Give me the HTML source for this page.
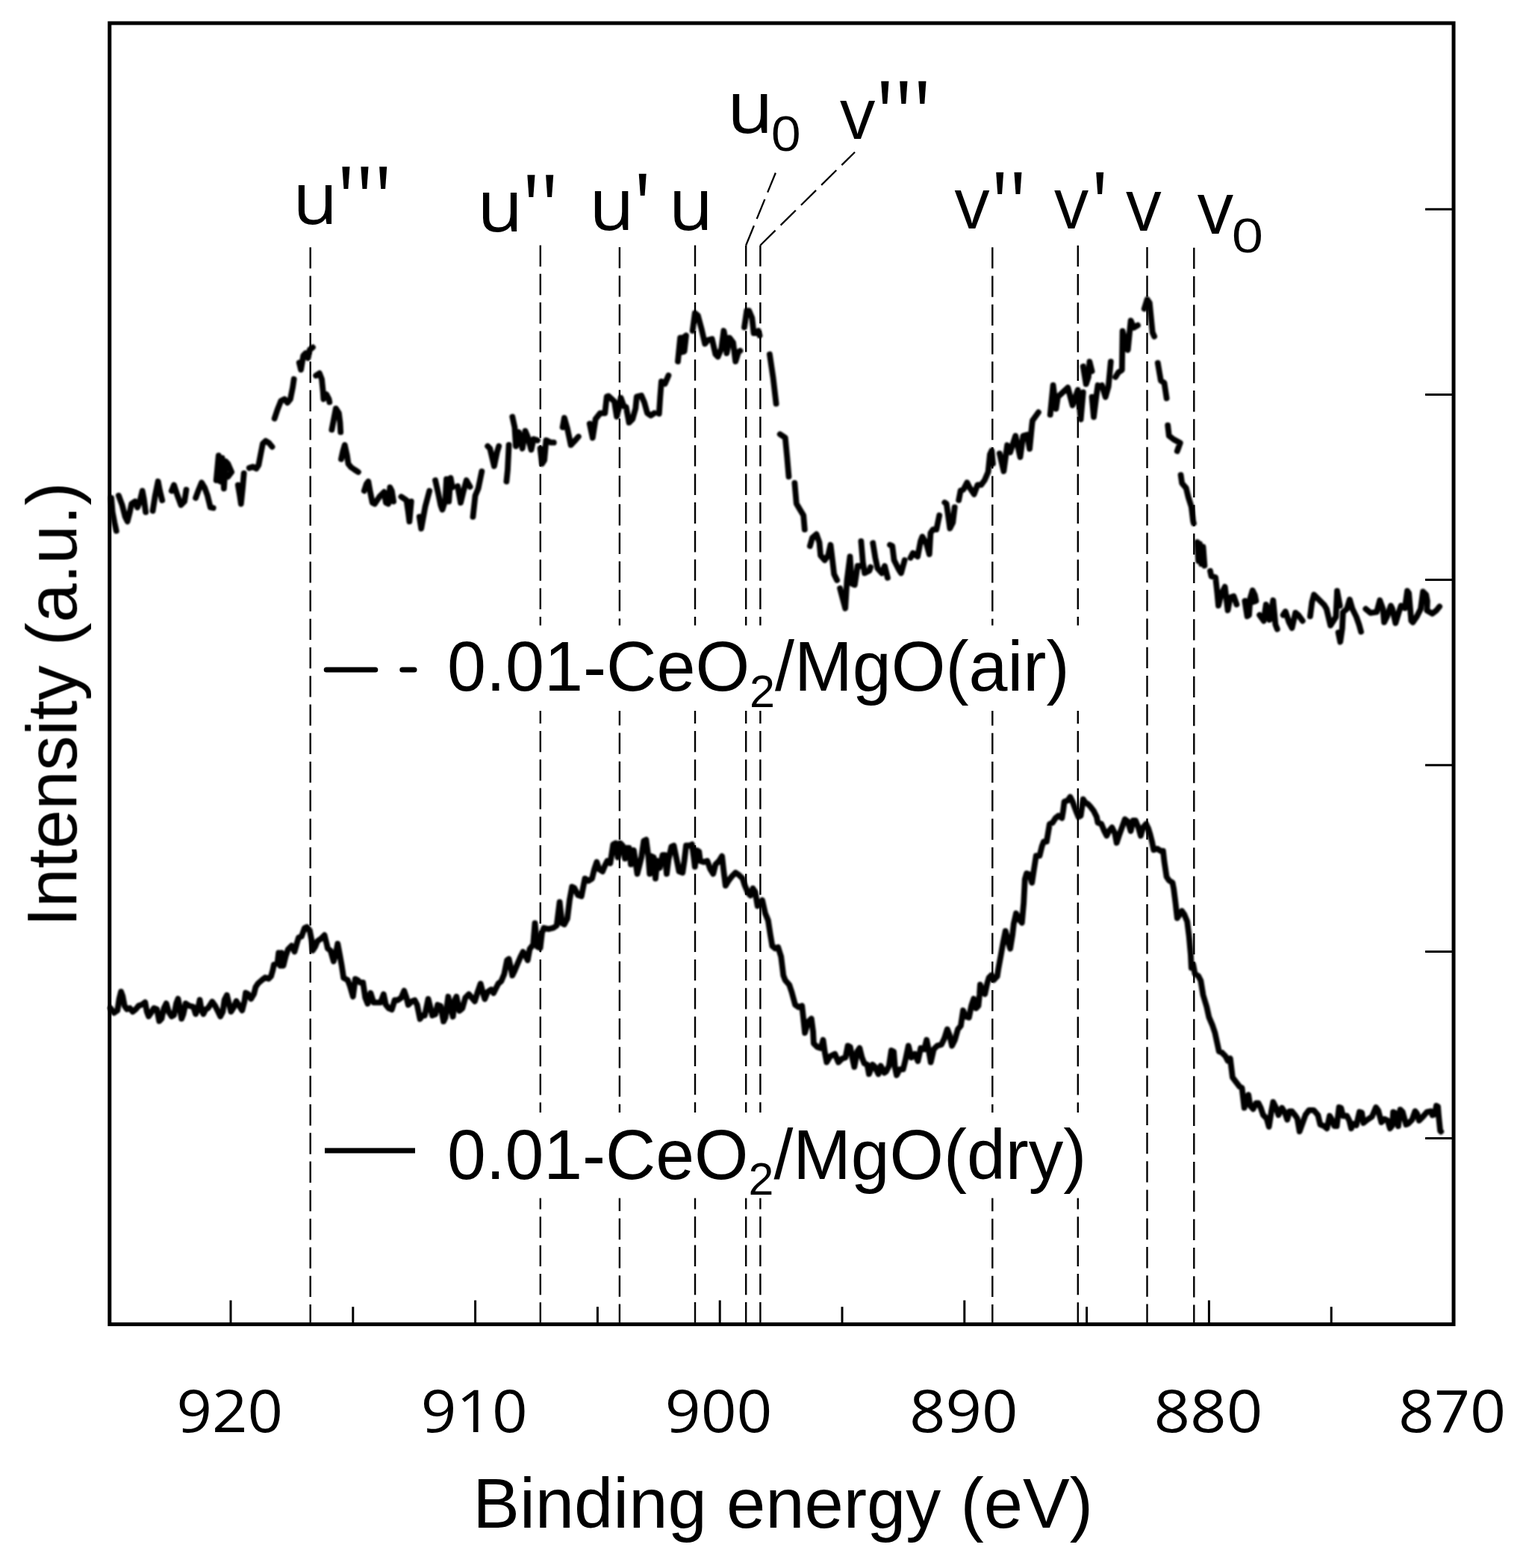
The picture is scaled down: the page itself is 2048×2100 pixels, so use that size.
<!DOCTYPE html>
<html><head><meta charset="utf-8"><style>html,body{margin:0;padding:0;background:#fff}svg{display:block}</style></head>
<body><svg width="2048" height="2100" viewBox="0 0 2048 2100">
<rect width="2048" height="2100" fill="#fff"/>
<defs><filter id="gb" x="0" y="0" width="100%" height="100%" filterUnits="userSpaceOnUse"><feGaussianBlur stdDeviation="0.55"/></filter></defs>
<g filter="url(#gb)">
<line x1="415.7" y1="331.3" x2="415.7" y2="1771.6" stroke="#000" stroke-width="2.4" stroke-dasharray="28.3 9.96"/>
<line x1="723.8" y1="328.6" x2="723.8" y2="1771.6" stroke="#000" stroke-width="2.4" stroke-dasharray="28.3 9.96"/>
<line x1="829.9" y1="331.0" x2="829.9" y2="1771.6" stroke="#000" stroke-width="2.4" stroke-dasharray="28.3 9.96"/>
<line x1="931.0" y1="328.5" x2="931.0" y2="1771.6" stroke="#000" stroke-width="2.4" stroke-dasharray="28.3 9.96"/>
<line x1="999.2" y1="328.5" x2="999.2" y2="1771.6" stroke="#000" stroke-width="2.4" stroke-dasharray="28.3 9.96"/>
<line x1="1018.4" y1="328.5" x2="1018.4" y2="1771.6" stroke="#000" stroke-width="2.4" stroke-dasharray="28.3 9.96"/>
<line x1="1329.3" y1="331.3" x2="1329.3" y2="1771.6" stroke="#000" stroke-width="2.4" stroke-dasharray="28.3 9.96"/>
<line x1="1443.8" y1="328.7" x2="1443.8" y2="1771.6" stroke="#000" stroke-width="2.4" stroke-dasharray="28.3 9.96"/>
<line x1="1536.5" y1="331.0" x2="1536.5" y2="1771.6" stroke="#000" stroke-width="2.4" stroke-dasharray="28.3 9.96"/>
<line x1="1599.3" y1="331.8" x2="1599.3" y2="1771.6" stroke="#000" stroke-width="2.4" stroke-dasharray="28.3 9.96"/>
<line x1="999.2" y1="328.5" x2="1040" y2="228.7" stroke="#000" stroke-width="2.3" stroke-dasharray="28.3 9.96"/>
<line x1="1018.4" y1="328.5" x2="1145" y2="203.7" stroke="#000" stroke-width="2.3" stroke-dasharray="28.3 9.96"/>
<rect x="420" y="837.6" width="1040" height="114.4" fill="#fff"/>
<rect x="420" y="1490" width="1040" height="114.6" fill="#fff"/>
<rect x="146.8" y="31" width="1800.2" height="1742.6" fill="none" stroke="#000" stroke-width="5"/>
<line x1="1783.2" y1="1750.2" x2="1783.2" y2="1773.6" stroke="#000" stroke-width="3"/>
<line x1="1619.4" y1="1741.5" x2="1619.4" y2="1773.6" stroke="#000" stroke-width="3"/>
<line x1="1455.6" y1="1750.2" x2="1455.6" y2="1773.6" stroke="#000" stroke-width="3"/>
<line x1="1291.8" y1="1741.5" x2="1291.8" y2="1773.6" stroke="#000" stroke-width="3"/>
<line x1="1128.0" y1="1750.2" x2="1128.0" y2="1773.6" stroke="#000" stroke-width="3"/>
<line x1="964.2" y1="1741.5" x2="964.2" y2="1773.6" stroke="#000" stroke-width="3"/>
<line x1="800.4" y1="1750.2" x2="800.4" y2="1773.6" stroke="#000" stroke-width="3"/>
<line x1="636.6" y1="1741.5" x2="636.6" y2="1773.6" stroke="#000" stroke-width="3"/>
<line x1="472.8" y1="1750.2" x2="472.8" y2="1773.6" stroke="#000" stroke-width="3"/>
<line x1="309.0" y1="1741.5" x2="309.0" y2="1773.6" stroke="#000" stroke-width="3"/>
<line x1="1909" y1="280.2" x2="1947" y2="280.2" stroke="#000" stroke-width="3"/>
<line x1="1909" y1="528.6" x2="1947" y2="528.6" stroke="#000" stroke-width="3"/>
<line x1="1909" y1="776.6" x2="1947" y2="776.6" stroke="#000" stroke-width="3"/>
<line x1="1909" y1="1024.7" x2="1947" y2="1024.7" stroke="#000" stroke-width="3"/>
<line x1="1909" y1="1274.5" x2="1947" y2="1274.5" stroke="#000" stroke-width="3"/>
<line x1="1909" y1="1524.4" x2="1947" y2="1524.4" stroke="#000" stroke-width="3"/>
<defs><filter id="sb" x="-5%" y="-5%" width="110%" height="110%"><feGaussianBlur stdDeviation="1.1"/></filter></defs>
<g filter="url(#sb)" fill="none" stroke="#000" stroke-width="7.8" stroke-linecap="round" stroke-linejoin="round">
<path d="M149.1,666.9 L150.7,685.8 L153.4,700.0 L155.8,711.0 M158.9,663.7 L163.6,676.3 L167.6,692.1 L170.7,698.4 L173.9,685.8 L176.2,674.8 L181.0,671.6 L184.1,679.5 L187.3,671.6 L190.7,657.4 L192.8,668.5 L195.1,685.8 M204.6,684.2 L207.8,663.7 L211.7,644.8 L214.1,657.4 L217.2,670.0 M229.8,657.4 L233.0,649.6 L237.7,663.7 L242.4,676.3 L247.1,671.6 L249.5,655.9 M262.1,666.9 L266.1,655.9 L270.0,646.4 L273.9,652.7 L277.9,663.7 L281.8,679.5 L285.7,680.3 M289.7,643.3 L292.8,610.2 L295.2,644.8 L297.6,613.3 L299.9,654.3 L302.3,618.0 L305.4,621.2 L310.2,632.2 L305.4,638.5 M318.8,649.6 L321.2,663.7 L322.8,674.8 L325.1,652.7 L326.7,633.8 M333.8,626.7 L338.5,625.1 L343.3,627.5 L346.4,622.8 L348.8,610.2 L351.9,594.4 L355.9,590.5 L360.6,593.6 L364.5,598.4 M367.7,560.5 L371.6,548.7 L376.3,536.9 L381.1,534.5 L385.0,539.3 L388.9,534.5 L392.1,518.8 L393.7,507.8 M400.8,485.7 L403.1,495.1 L406.3,476.2 L409.4,473.1 L412.6,479.4 L414.9,468.4 L418.9,465.2 M423.2,503.0 L427.9,499.9 L431.0,507.8 L432.6,523.5 L433.4,534.5 L437.3,528.2 L440.5,534.5 L441.3,538.5 M444.4,575.5 L446.8,562.9 L449.9,547.1 L453.9,553.4 L455.5,566.1 L456.2,578.7 M457.0,614.9 L459.4,603.9 L461.8,596.0 L464.9,610.2 L466.5,621.2 L470.4,625.9 L475.1,629.1 L479.9,632.2 M487.8,657.4 L490.9,648.0 L493.3,644.8 L495.6,657.4 L498.8,673.2 L501.9,674.8 L508.2,665.3 L514.5,659.0 L516.9,673.2 L520.1,674.8 L522.4,652.7 L524.8,657.4 L527.1,671.6 M537.4,665.3 L544.5,670.0 L546.8,685.8 L548.4,698.4 L550.8,671.6 M561.8,692.1 L564.2,707.9 L566.5,695.3 L569.7,677.9 L575.2,657.4 M583.1,643.3 L587.0,660.6 L590.2,676.3 L592.5,682.6 L596.5,670.0 L598.0,641.7 L601.2,671.6 L603.6,640.1 L605.9,652.7 M613.0,651.1 L617.0,673.2 L620.9,657.4 L624.8,643.3 L629.6,651.9 M633.5,692.1 L636.6,663.7 L640.6,654.3 L645.3,631.4 M653.2,597.6 L656.3,600.7 L661.9,624.3 L665.8,605.4 L668.2,597.6 M678.4,644.8 L680.0,629.1 L681.6,596.0 M686.3,558.2 L689.4,572.4 L691.0,597.6 L694.9,578.7 L699.7,600.7 L703.6,577.1 L706.8,585.0 L711.5,602.3 L714.6,588.1 L720.0,589.7 M723.6,600.6 L726.0,621.1 L729.1,616.3 L731.5,589.6 L737.8,592.7 L741.8,592.7 M753.6,572.2 L755.9,559.6 L759.9,573.8 L764.6,595.9 L769.3,591.1 L774.8,584.8 M789.8,567.5 L793.8,586.4 L797.7,561.2 L804.0,553.3 L810.3,553.3 L812.7,531.3 L815.0,530.5 L822.9,537.6 L826.1,558.0 L829.2,545.4 L831.6,532.8 L835.5,543.9 L838.7,545.4 L842.6,565.9 L847.3,561.2 L851.3,547.0 L852.8,531.3 L859.1,529.7 L863.1,539.1 L867.0,553.3 L871.7,556.5 L876.5,553.3 M882.8,554.1 L884.3,531.3 L885.9,510.8 L890.7,513.9 L895.4,502.9 M908.0,484.0 L911.1,452.5 L915.1,452.5 L919.0,449.3 L916.6,470.6 L913.5,471.4 M927.7,443.0 L930.8,419.4 L934.8,422.5 L939.5,439.9 L944.2,460.4 L948.2,455.6 L953.7,454.1 L958.4,474.5 L961.6,477.7 L966.3,466.7 L969.4,443.0 L971.0,450.9 L973.4,473.0 L977.3,452.5 L982.0,458.8 L985.2,484.0 L989.1,471.4 L991.5,469.8 M997.0,438.3 L1000.2,416.2 L1003.3,416.2 L1007.3,425.7 L1009.6,446.2 L1013.6,446.2 L1015.9,443.0 L1017.5,449.3 M1030.9,474.5 L1035.6,506.1 L1039.6,540.7 M1044.7,581.6 L1051.8,586.3 L1054.2,611.5 L1056.5,638.3 M1064.4,647.0 L1066.8,674.5 L1071.5,682.4 L1076.2,690.3 L1077.8,709.2 M1084.9,731.3 L1088.1,720.2 L1093.6,715.5 L1097.5,726.5 L1099.1,743.9 L1104.6,750.2 L1109.3,743.9 L1112.5,729.7 L1114.8,748.6 L1117.2,769.1 L1121.1,777.0 M1125.1,788.0 L1132.2,814.8 L1134.5,777.0 L1138.5,745.4 L1140.8,781.7 L1144.8,783.3 L1148.7,758.0 L1152.7,758.0 M1153.4,725.0 L1155.8,753.3 L1158.2,767.5 L1164.5,764.3 L1166.1,759.6 M1169.2,727.3 L1172.4,747.0 L1175.5,761.2 L1181.0,767.5 L1185.0,758.0 L1188.9,773.8 M1192.0,729.7 L1195.2,731.3 L1197.6,750.2 L1203.9,762.8 L1207.0,767.5 L1211.7,750.2 M1219.6,747.0 L1222.8,740.7 L1229.1,745.4 L1233.0,725.0 L1235.4,718.7 L1240.9,728.1 L1244.8,742.3 L1246.4,713.9 L1249.6,709.2 L1254.3,709.2 L1258.2,690.3 M1265.3,673.0 L1267.7,674.5 L1270.0,690.3 L1272.4,707.6 L1276.3,699.7 L1278.7,679.3 M1284.2,669.8 L1286.6,657.2 L1290.5,655.6 L1295.3,646.2 L1298.4,652.5 L1304.7,661.9 L1309.4,649.3 L1314.2,649.3 L1318.9,643.0 L1323.6,632.0 L1326.0,608.4 L1328.3,603.6 L1329.9,621.0 M1338.9,607.4 L1344.4,631.0 L1349.1,596.3 L1353.1,605.8 L1360.2,583.7 L1366.5,612.1 L1370.4,583.7 L1375.9,582.2 L1379.1,601.1 L1382.2,569.6 L1383.0,563.3 L1390.9,552.2 M1406.7,555.4 L1410.6,516.0 L1414.5,547.5 L1416.9,531.7 L1430.3,519.1 L1436.6,542.8 L1443.7,522.3 L1447.6,561.7 L1450.8,525.4 M1450.8,490.8 L1454.7,514.4 L1457.9,505.0 L1459.4,484.5 L1462.6,497.1 M1462.6,531.7 L1465.0,558.5 L1468.1,533.3 L1470.5,516.0 M1476.0,516.0 L1480.7,531.7 L1484.7,517.6 L1487.8,484.5 M1494.1,505.0 L1498.0,498.7 L1502.8,495.5 L1503.6,443.5 L1510.7,468.7 L1513.0,445.1 L1514.6,429.3 L1518.5,438.8 L1524.0,435.6 M1532.7,413.6 L1536.6,401.0 L1539.8,405.7 L1543.7,445.1 L1546.1,450.6 M1550.8,486.1 L1554.8,509.7 L1559.5,512.8 L1562.6,533.3 M1564.2,569.6 L1565.8,583.7 L1572.1,588.5 L1580.8,593.2 L1576.8,604.2 M1581.6,636.2 L1583.2,647.3 L1588.7,653.6 L1591.8,666.2 L1595.8,678.8 L1598.1,697.7 L1598.9,700.8 M1603.6,726.1 L1605.2,751.3 L1607.1,728.4 L1609.1,755.2 L1611.5,732.4 L1613.4,757.6 M1621.0,764.7 L1622.5,771.7 L1628.1,773.3 L1630.4,793.8 L1632.0,811.1 L1635.9,795.4 L1640.7,785.9 L1643.0,804.8 L1644.6,817.4 L1647.8,800.1 L1652.5,798.5 L1656.4,809.6 M1667.4,804.8 L1670.6,825.3 L1673.0,823.7 L1674.5,801.7 L1677.7,790.7 L1680.8,797.0 L1682.4,804.8 L1677.7,806.4 M1687.1,823.7 L1692.7,831.6 L1695.8,809.6 L1700.5,830.0 L1705.3,804.0 L1708.4,836.3 L1710.8,842.6 M1718.7,823.7 L1721.8,819.0 L1726.5,833.2 L1730.5,841.1 L1735.2,820.6 L1739.1,823.7 L1744.7,831.6 M1754.9,825.3 L1757.3,806.4 L1760.0,796.6 L1773.7,810.3 L1776.8,815.5 L1782.1,837.6 L1789.4,826.1 L1791.0,791.4 L1794.7,811.3 M1792.6,847.1 L1795.2,859.7 L1797.8,841.8 L1798.9,819.7 L1804.1,815.5 L1807.8,802.9 L1811.5,815.5 L1816.7,826.1 L1820.4,836.6 L1823.0,846.0 M1829.3,815.5 L1835.6,820.8 L1844.0,819.7 L1848.2,804.0 L1852.4,815.5 L1854.0,833.4 L1857.7,826.1 L1862.9,811.3 L1865.0,815.5 L1869.2,834.5 L1873.4,820.8 L1876.6,811.3 L1881.8,814.5 L1885.0,791.4 L1887.1,794.5 L1890.3,831.3 L1892.4,833.4 L1897.6,826.1 L1902.9,815.5 L1906.0,792.4 L1910.2,796.6 L1911.8,805.0 L1911.3,817.6 L1918.6,821.8 L1923.9,817.6 L1928.1,812.4"/>
<path d="M147.9,1350.2 L152.6,1356.5 L157.3,1353.3 L159.7,1337.6 L162.1,1328.1 L164.4,1334.4 L166.8,1347.0 L169.9,1351.7 L173.9,1350.2 L177.8,1354.9 L181.8,1351.7 L185.7,1347.0 L190.4,1345.4 L194.4,1342.3 L196.7,1354.9 L199.1,1361.2 L202.2,1356.5 L206.2,1350.2 L210.1,1351.7 L213.3,1367.5 L216.4,1364.3 L219.6,1350.2 L222.7,1343.9 L225.9,1354.9 L229.8,1361.2 L233.0,1359.6 L236.1,1343.9 L238.5,1337.6 L240.8,1350.2 L243.2,1364.3 L245.6,1358.0 L248.7,1343.9 L253.4,1347.0 L259.0,1348.6 L262.1,1358.0 L265.3,1350.2 L267.6,1339.1 L270.0,1353.3 L272.4,1358.0 L275.5,1351.7 L278.7,1350.2 L281.8,1345.4 L284.2,1341.5 L288.1,1347.0 L291.3,1353.3 L295.2,1361.2 L298.4,1354.9 L300.7,1339.1 L303.9,1332.8 L307.0,1345.4 L309.4,1354.9 L313.3,1348.6 L316.5,1340.7 L320.4,1347.0 L324.3,1353.3 L327.5,1340.7 L329.1,1329.7 L332.2,1331.3 L336.2,1337.6 L340.1,1331.3 L342.5,1321.8 L345.6,1317.1 L351.1,1312.4 L355.1,1309.2 L359.8,1310.8 L363.0,1307.6 L365.3,1299.7 L366.9,1291.9 L371.6,1290.3 L373.2,1276.1 L375.6,1293.4 L377.1,1276.1 L379.5,1293.4 L382.6,1280.8 L385.8,1271.4 L390.5,1266.7 L394.5,1274.5 L397.6,1263.5 L400.0,1255.6 L403.9,1254.1 L407.9,1243.0 L411.0,1241.4 L414.9,1246.2 L417.3,1258.8 L418.9,1273.0 L422.0,1268.2 L425.2,1260.4 L429.9,1257.2 L434.6,1252.5 L437.8,1265.1 L438.9,1270.2 L442.8,1273.3 L446.8,1287.5 L449.9,1276.5 L452.3,1263.9 L454.7,1276.5 L457.8,1293.8 L460.2,1309.6 L465.7,1312.7 L468.8,1320.6 L472.8,1334.8 L475.9,1311.1 L479.1,1312.7 L482.2,1315.9 L486.2,1315.9 L489.3,1336.3 L492.5,1344.2 L496.4,1330.0 L500.4,1342.6 L505.1,1342.6 L509.8,1342.6 L513.8,1331.6 L516.9,1345.8 L520.8,1350.5 L524.8,1352.1 L528.7,1339.5 L532.7,1339.5 L537.4,1336.3 L541.3,1326.9 L544.5,1336.3 L546.8,1345.8 L551.6,1341.1 L555.5,1339.5 L558.7,1345.8 L562.6,1364.7 L565.7,1360.0 L568.9,1360.0 L573.6,1337.9 L576.0,1347.4 L579.1,1360.0 L583.1,1358.4 L586.2,1345.8 L590.2,1347.4 L594.1,1367.9 L596.5,1363.1 L600.4,1334.8 L602.8,1347.4 L606.7,1361.6 L609.1,1339.5 L611.4,1334.8 L615.4,1353.7 L619.3,1350.5 L623.3,1336.3 L628.0,1331.6 L631.9,1336.3 L635.9,1341.1 L639.8,1328.5 L643.7,1317.4 L646.9,1330.0 L649.3,1337.9 L653.2,1328.5 L657.9,1325.3 L661.1,1330.0 L664.2,1323.7 L667.4,1317.4 L671.3,1314.3 L675.3,1304.8 L679.2,1285.9 L681.6,1284.3 L684.7,1298.5 L686.3,1306.4 L689.4,1300.1 L692.6,1292.2 L697.3,1281.2 L700.5,1274.9 L703.6,1279.6 L706.8,1285.9 L709.5,1271.1 L714.2,1264.8 L716.5,1236.5 L719.7,1268.0 L723.6,1269.6 L726.0,1249.1 L728.4,1242.8 L734.7,1244.3 L741.0,1242.8 L745.7,1239.6 L749.6,1208.1 L752.8,1236.5 L755.9,1238.0 L759.9,1230.2 L763.0,1205.0 L766.2,1187.6 L769.3,1189.2 L774.1,1198.7 L778.8,1200.2 L781.9,1184.5 L783.5,1176.6 L788.2,1179.7 L793.0,1176.6 L796.1,1164.0 L799.3,1154.5 L802.4,1164.0 L807.1,1167.1 L810.3,1159.3 L813.4,1153.0 L817.4,1156.1 L821.3,1130.9 L824.5,1129.3 L827.6,1148.2 L830.8,1129.3 L833.9,1132.5 L837.1,1149.8 L838.7,1135.6 L842.6,1135.6 L845.0,1157.7 L848.9,1138.8 L851.3,1154.5 L853.6,1170.3 L856.0,1160.8 L859.1,1148.2 L862.3,1126.2 L865.4,1124.6 L868.6,1148.2 L870.2,1170.3 L872.5,1146.7 L875.7,1148.2 L878.0,1176.6 L880.4,1153.0 L883.6,1162.4 L887.5,1145.1 L890.7,1145.1 L893.0,1170.3 L895.4,1151.4 L899.3,1134.1 L902.5,1132.5 L906.4,1151.4 L909.6,1167.1 L914.3,1168.7 L916.6,1153.0 L919.0,1132.5 L923.7,1132.5 L926.9,1130.9 L929.3,1148.2 L930.8,1160.8 L933.2,1138.8 L936.3,1140.4 L937.9,1153.0 L942.6,1154.5 L947.4,1153.0 L951.3,1164.0 L955.3,1170.3 L958.4,1157.7 L963.1,1153.0 L967.1,1146.7 L969.4,1167.1 L971.8,1186.1 L975.7,1179.7 L980.5,1173.4 L985.2,1168.7 L989.9,1171.9 L994.6,1176.6 L997.3,1185.1 L1002.1,1196.1 L1005.2,1199.3 L1008.4,1189.8 L1011.5,1194.5 L1014.7,1213.4 L1017.8,1210.3 L1021.0,1205.6 L1024.9,1222.9 L1028.8,1232.4 L1032.0,1252.8 L1034.4,1267.0 L1038.3,1270.2 L1042.2,1268.6 L1046.2,1281.2 L1049.3,1306.4 L1051.7,1312.7 L1057.2,1319.0 L1060.4,1328.5 L1065.1,1345.8 L1069.8,1348.9 L1074.2,1347.0 L1075.8,1361.2 L1078.1,1383.3 L1082.1,1369.1 L1086.8,1364.3 L1089.1,1381.7 L1089.9,1397.4 L1094.7,1402.2 L1099.4,1403.7 L1102.5,1392.7 L1104.9,1410.0 L1107.3,1422.6 L1112.0,1414.8 L1118.3,1411.6 L1123.0,1422.6 L1127.8,1417.9 L1132.5,1416.3 L1135.6,1400.6 L1138.8,1402.2 L1141.9,1417.9 L1144.3,1428.9 L1148.2,1408.5 L1151.4,1403.7 L1154.5,1416.3 L1157.7,1424.2 L1161.6,1425.8 L1164.0,1438.4 L1168.7,1425.8 L1171.9,1428.9 L1176.6,1438.4 L1179.7,1427.4 L1184.5,1436.8 L1186.8,1435.3 L1190.8,1427.4 L1193.9,1406.9 L1197.1,1408.5 L1198.7,1428.9 L1201.0,1440.0 L1205.0,1432.1 L1209.7,1432.1 L1212.8,1419.5 L1216.8,1400.6 L1220.7,1416.3 L1225.4,1411.6 L1229.4,1421.1 L1233.3,1403.7 L1238.0,1405.3 L1241.2,1392.7 L1244.3,1408.5 L1246.7,1422.6 L1250.7,1405.3 L1255.4,1400.6 L1260.9,1399.0 L1264.8,1391.1 L1268.8,1378.5 L1271.9,1386.4 L1275.1,1400.6 L1279.0,1392.7 L1283.0,1378.5 L1286.9,1373.8 L1290.0,1353.3 L1293.2,1361.2 L1297.9,1362.8 L1301.1,1347.0 L1304.2,1337.6 L1307.4,1350.2 L1310.5,1347.0 L1312.1,1331.3 L1312.9,1318.7 L1316.0,1328.1 L1319.2,1331.3 L1322.3,1317.1 L1324.7,1309.2 L1327.9,1306.1 L1331.0,1312.4 L1335.7,1307.6 L1337.3,1297.3 L1340.5,1280.0 L1343.6,1262.6 L1346.8,1246.9 L1349.9,1259.5 L1353.1,1270.5 L1356.2,1251.6 L1357.8,1237.4 L1361.0,1223.3 L1364.9,1231.1 L1368.8,1235.9 L1371.2,1209.1 L1372.8,1177.6 L1375.1,1169.7 L1379.1,1171.3 L1382.2,1182.3 L1384.6,1166.5 L1387.8,1146.1 L1392.5,1146.1 L1395.6,1133.4 L1398.0,1127.1 L1401.9,1127.1 L1404.3,1113.0 L1405.9,1103.5 L1409.8,1101.9 L1413.8,1095.6 L1417.7,1092.5 L1422.4,1095.6 L1424.0,1086.2 L1425.6,1073.6 L1430.3,1072.0 L1433.4,1067.3 L1436.6,1073.6 L1441.3,1086.2 L1444.5,1094.1 L1447.6,1092.5 L1450.8,1070.4 L1453.9,1075.1 L1457.1,1076.7 L1460.2,1079.9 L1465.0,1086.2 L1468.9,1094.1 L1470.5,1101.9 L1475.2,1103.5 L1479.1,1113.0 L1482.3,1119.3 L1485.4,1113.0 L1489.4,1108.2 L1493.3,1116.1 L1495.7,1128.7 L1498.8,1119.3 L1502.8,1108.2 L1506.7,1097.2 L1510.7,1100.4 L1514.6,1113.0 L1517.7,1098.8 L1520.9,1098.8 L1524.8,1108.2 L1528.0,1119.3 L1531.1,1108.2 L1535.1,1103.5 L1538.2,1109.8 L1540.6,1117.7 L1543.0,1127.1 L1545.3,1138.2 L1550.0,1136.6 L1554.8,1139.7 L1557.9,1139.7 L1559.5,1153.9 L1562.6,1174.4 L1565.8,1179.1 L1570.5,1182.3 L1572.1,1190.2 L1574.5,1209.1 L1576.8,1229.6 L1580.0,1224.8 L1583.1,1220.1 L1586.3,1224.8 L1590.2,1234.3 L1592.6,1253.2 L1594.9,1278.4 L1595.8,1296.2 L1598.1,1291.5 L1600.5,1304.1 L1605.2,1307.3 L1608.4,1313.6 L1611.5,1332.5 L1616.2,1348.2 L1619.4,1362.4 L1624.1,1373.4 L1627.3,1382.9 L1630.4,1397.1 L1632.8,1408.1 L1636.7,1409.7 L1641.4,1414.4 L1644.6,1420.7 L1647.8,1417.6 L1650.9,1442.8 L1655.6,1449.1 L1660.4,1455.4 L1663.5,1457.0 L1666.7,1483.7 L1669.8,1469.6 L1672.2,1466.4 L1674.5,1480.6 L1678.5,1485.3 L1682.4,1477.4 L1685.6,1477.4 L1688.7,1483.7 L1691.9,1493.2 L1696.6,1497.9 L1699.7,1508.9 L1702.9,1488.5 L1705.3,1475.9 L1709.2,1483.7 L1712.4,1493.2 L1717.1,1483.7 L1721.0,1490.0 L1724.2,1499.5 L1727.3,1488.5 L1730.5,1488.5 L1734.4,1493.2 L1737.6,1497.9 L1740.7,1515.3 L1744.7,1504.2 L1748.6,1493.2 L1753.3,1486.9 L1758.0,1486.9 L1760.0,1487.2 L1765.3,1493.5 L1768.4,1506.1 L1773.7,1508.2 L1777.3,1511.3 L1781.0,1494.5 L1783.6,1498.7 L1787.3,1508.2 L1790.5,1508.2 L1793.6,1483.0 L1796.2,1484.0 L1798.9,1494.5 L1804.1,1494.5 L1807.3,1500.8 L1809.9,1511.3 L1812.5,1505.0 L1816.7,1507.1 L1820.9,1489.3 L1824.1,1490.3 L1826.2,1504.0 L1831.4,1499.8 L1837.7,1495.6 L1843.0,1483.0 L1846.1,1487.2 L1850.3,1502.9 L1854.5,1498.7 L1858.7,1500.8 L1861.9,1511.3 L1865.0,1507.1 L1866.1,1489.3 L1870.3,1491.4 L1872.9,1508.2 L1875.5,1486.1 L1878.7,1489.3 L1883.4,1506.1 L1886.1,1505.0 L1891.3,1499.8 L1895.5,1488.2 L1898.1,1491.4 L1900.8,1500.8 L1905.0,1496.6 L1911.3,1489.3 L1916.5,1488.2 L1918.6,1493.5 L1921.8,1492.4 L1923.9,1480.9 L1926.0,1481.9 L1927.0,1494.5 L1929.1,1514.5 L1930.2,1515.5"/>
</g>
<text x="236.6" y="1918.0" font-family="'Open Sans', 'DejaVu Sans', sans-serif" font-size="79.48" textLength="142.53" lengthAdjust="spacingAndGlyphs">920</text>
<text x="563.7" y="1918.0" font-family="'Open Sans', 'DejaVu Sans', sans-serif" font-size="79.48" textLength="143.06" lengthAdjust="spacingAndGlyphs">910</text>
<text x="890.8" y="1918.0" font-family="'Open Sans', 'DejaVu Sans', sans-serif" font-size="79.48" textLength="143.62" lengthAdjust="spacingAndGlyphs">900</text>
<text x="1217.9" y="1918.0" font-family="'Open Sans', 'DejaVu Sans', sans-serif" font-size="79.48" textLength="145.65" lengthAdjust="spacingAndGlyphs">890</text>
<text x="1545.4" y="1918.0" font-family="'Open Sans', 'DejaVu Sans', sans-serif" font-size="79.48" textLength="145.9" lengthAdjust="spacingAndGlyphs">880</text>
<text x="1872.9" y="1918.0" font-family="'Open Sans', 'DejaVu Sans', sans-serif" font-size="79.48" textLength="144.3" lengthAdjust="spacingAndGlyphs">870</text>
<text x="392.0" y="299.8" font-family="'Open Sans', 'DejaVu Sans', sans-serif" font-size="96.34" textLength="60.53" lengthAdjust="spacingAndGlyphs">u</text>
<text x="450.8" y="306.12" font-family="'Open Sans', 'DejaVu Sans', sans-serif" font-size="115.33" textLength="75.1" lengthAdjust="spacing">&#39;&#39;&#39;</text>
<text x="638.9" y="310.4" font-family="'Open Sans', 'DejaVu Sans', sans-serif" font-size="96.34" textLength="61.76" lengthAdjust="spacingAndGlyphs">u</text>
<text x="698.7" y="316.62" font-family="'Open Sans', 'DejaVu Sans', sans-serif" font-size="115.33" textLength="50.01" lengthAdjust="spacing">&#39;&#39;</text>
<text x="788.9" y="308.1" font-family="'Open Sans', 'DejaVu Sans', sans-serif" font-size="96.34" textLength="60.8" lengthAdjust="spacingAndGlyphs">u</text>
<text x="848.2" y="313.59" font-family="'Open Sans', 'DejaVu Sans', sans-serif" font-size="113.36" textLength="26.54" lengthAdjust="spacing">&#39;</text>
<text x="895.4" y="308.1" font-family="'Open Sans', 'DejaVu Sans', sans-serif" font-size="96.34" textLength="59.92" lengthAdjust="spacingAndGlyphs">u</text>
<text x="973.7" y="177.8" font-family="'Open Sans', 'DejaVu Sans', sans-serif" font-size="96.34" textLength="62.33" lengthAdjust="spacingAndGlyphs">u</text>
<text x="1032.0" y="201.8" font-family="'Open Sans', 'DejaVu Sans', sans-serif" font-size="63.45" textLength="41.52" lengthAdjust="spacingAndGlyphs">0</text>
<text x="1125.3" y="185.9" font-family="'Open Sans', 'DejaVu Sans', sans-serif" font-size="96.09" textLength="46.84" lengthAdjust="spacingAndGlyphs">v</text>
<text x="1172.5" y="193.19" font-family="'Open Sans', 'DejaVu Sans', sans-serif" font-size="116.98" textLength="75.73" lengthAdjust="spacing">&#39;&#39;&#39;</text>
<text x="1278.7" y="306.2" font-family="'Open Sans', 'DejaVu Sans', sans-serif" font-size="95.54" textLength="46.55" lengthAdjust="spacingAndGlyphs">v</text>
<text x="1326.8" y="311.69" font-family="'Open Sans', 'DejaVu Sans', sans-serif" font-size="113.36" textLength="49.11" lengthAdjust="spacing">&#39;&#39;</text>
<text x="1412.3" y="306.2" font-family="'Open Sans', 'DejaVu Sans', sans-serif" font-size="95.54" textLength="45.64" lengthAdjust="spacingAndGlyphs">v</text>
<text x="1460.8" y="311.69" font-family="'Open Sans', 'DejaVu Sans', sans-serif" font-size="113.36" textLength="9.88" lengthAdjust="spacing">&#39;</text>
<text x="1508.2" y="308.8" font-family="'Open Sans', 'DejaVu Sans', sans-serif" font-size="96.46" textLength="47.14" lengthAdjust="spacingAndGlyphs">v</text>
<text x="1604.0" y="313.4" font-family="'Open Sans', 'DejaVu Sans', sans-serif" font-size="97.03" textLength="47.84" lengthAdjust="spacingAndGlyphs">v</text>
<text x="1648.9" y="338.1" font-family="'Open Sans', 'DejaVu Sans', sans-serif" font-size="61.57" textLength="43.88" lengthAdjust="spacingAndGlyphs">0</text>
<text x="1048.6" y="2046.3" font-family="'Liberation Sans', Arial, sans-serif" font-size="94" text-anchor="middle">Binding energy (eV)</text>
<text transform="translate(102.3,943.5) rotate(-90)" x="0" y="0" font-family="'Liberation Sans', Arial, sans-serif" font-size="94" text-anchor="middle">Intensity (a.u.)</text>
<line x1="437.2" y1="897" x2="502.8" y2="897" stroke="#000" stroke-width="7" stroke-linecap="round"/>
<line x1="538.8" y1="897" x2="555" y2="897" stroke="#000" stroke-width="7" stroke-linecap="round"/>
<text x="599.1" y="925" font-family="'Liberation Sans', Arial, sans-serif" font-size="94" textLength="833.4" lengthAdjust="spacingAndGlyphs">0.01-CeO<tspan font-size="61.5" dy="21.5">2</tspan><tspan dy="-21.5">/MgO(air)</tspan></text>
<line x1="435" y1="1541" x2="556" y2="1541" stroke="#000" stroke-width="7"/>
<text x="598.9" y="1578.7" font-family="'Liberation Sans', Arial, sans-serif" font-size="94" textLength="856.4" lengthAdjust="spacingAndGlyphs">0.01-CeO<tspan font-size="61.5" dy="21.5">2</tspan><tspan dy="-21.5">/MgO(dry)</tspan></text>
</g>
</svg></body></html>
